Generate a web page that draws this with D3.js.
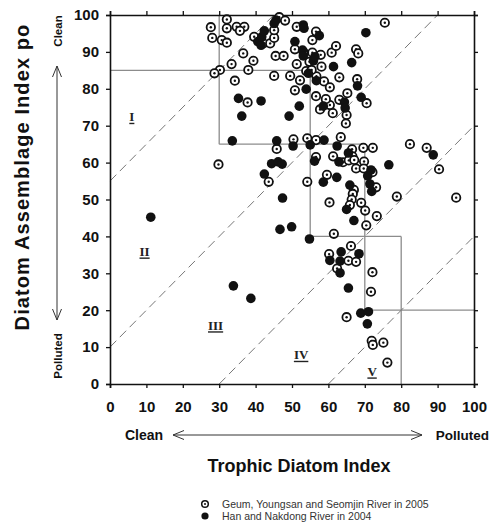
<!DOCTYPE html>
<html>
<head>
<meta charset="utf-8">
<script src="https://cdn.jsdelivr.net/npm/d3@7"></script>
<style>
	body { margin: 0; background: #fff; }
	text { font-family: "Liberation Sans", Arial, sans-serif; }
</style>
</head>
<body>
<div id="chart"></div>
<script>

	// Geum, Youngsan and Seomjin River in 2005 (TDI, DAIpo)
	let geum2005 = [
		[27.7, 96.7], [32.1, 98.8], [32.1, 96.4], [28.1, 93.8], [30.7, 93.2], [32.1, 92.5], [34.8, 96.8], [36.9, 96.8],
		[35.7, 95.7], [33.4, 86.7], [30.2, 85.1], [28.7, 84.2], [34.3, 82.2], [36.6, 89.6], [38.0, 85.1], [39.4, 87.6],
		[39.6, 94.1], [42.1, 92.3], [44.0, 92.3], [45.1, 93.8], [45.1, 95.9], [46.5, 99.4], [48.1, 98.5], [45.5, 88.9],
		[47.7, 88.9], [45.1, 83.5], [49.5, 83.5], [52.2, 82.3], [50.8, 79.6], [51.3, 86.7], [50.8, 90.7], [51.3, 96.8],
		[37.8, 76.3], [45.8, 63.7], [29.8, 59.5], [43.6, 54.8], [56.6, 95.5], [55.6, 93.2], [53.2, 89.9], [55.6, 89.8],
		[57.9, 89.2], [60.9, 89.8], [62.1, 91.6], [67.6, 90.7], [68.2, 89.6], [75.5, 97.9], [63.0, 83.1], [67.9, 82.6],
		[65.2, 78.8], [70.5, 76.1], [63.0, 77.0], [65.0, 72.9], [64.8, 70.6], [61.2, 73.4], [60.4, 75.6], [57.7, 74.4],
		[59.3, 77.2], [56.6, 78.0], [58.8, 82.0], [60.4, 80.4], [56.7, 83.4], [53.9, 84.8], [58.1, 86.0], [54.8, 87.3],
		[55.4, 85.1], [50.4, 66.3], [54.2, 66.6], [56.6, 66.1], [63.4, 66.9], [82.4, 65.0], [87.0, 64.0], [90.4, 58.2],
		[66.5, 63.6], [69.6, 64.0], [72.2, 64.0], [66.6, 61.7], [61.3, 61.7], [64.0, 60.1], [65.6, 60.6], [67.1, 60.7],
		[56.6, 61.5], [59.6, 56.7], [54.2, 54.8], [67.6, 58.4], [69.8, 60.3], [69.7, 58.4], [72.1, 57.4], [73.1, 53.3],
		[78.8, 50.8], [95.1, 50.5], [67.0, 52.6], [60.3, 49.2], [66.7, 51.5], [66.4, 50.0], [69.0, 49.1], [65.9, 48.5],
		[70.1, 47.0], [73.3, 45.5], [70.4, 43.0], [61.5, 40.7], [66.2, 37.4], [60.2, 35.2], [65.5, 33.4], [67.6, 33.1],
		[62.4, 31.3], [72.1, 30.3], [71.7, 25.0], [65.0, 18.1], [71.9, 11.7], [75.1, 11.2], [72.2, 10.6], [76.2, 5.8]
	];

	// Han and Nakdong River in 2004
	let han2004 = [
		[40.6, 92.8], [41.5, 91.8], [41.7, 94.1], [42.4, 95.7], [45.1, 97.7], [45.6, 98.6], [50.8, 92.8], [35.3, 77.4],
		[41.5, 76.7], [36.2, 72.6], [49.2, 72.6], [33.6, 65.9], [45.8, 65.9], [50.3, 64.5], [44.4, 59.7], [46.2, 60.2],
		[47.3, 59.6], [42.4, 56.9], [47.4, 50.4], [11.2, 45.2], [46.7, 41.9], [49.9, 42.6], [33.9, 26.6], [38.7, 23.2],
		[53.1, 97.3], [53.3, 96.4], [57.5, 94.4], [52.9, 90.5], [53.1, 88.9], [70.3, 95.2], [66.4, 87.1], [61.4, 86.0],
		[68.0, 80.8], [69.0, 77.7], [64.4, 76.4], [64.6, 74.8], [58.6, 75.3], [52.0, 75.3], [53.9, 79.9], [56.7, 82.2],
		[55.9, 87.6], [56.3, 88.7], [54.5, 84.2], [58.8, 66.1], [62.4, 64.5], [55.0, 64.8], [88.8, 62.1], [65.5, 62.6],
		[62.9, 60.2], [56.2, 60.4], [62.3, 56.0], [58.6, 54.7], [70.8, 56.4], [71.4, 54.2], [76.6, 59.4], [65.9, 53.9],
		[71.9, 52.2], [71.7, 58.0], [65.0, 47.3], [67.0, 44.3], [54.8, 39.3], [63.5, 35.8], [68.4, 35.3], [60.4, 33.5],
		[63.2, 33.3], [63.2, 30.1], [65.5, 26.0], [68.9, 19.2], [71.0, 19.6], [70.7, 16.3]
	];

	let xTicks = [0, 10, 20, 30, 40, 50, 60, 70, 80, 90, 100];
	let yTicks = [0, 10, 20, 30, 40, 50, 60, 70, 80, 90, 100];

	// class boundaries (x1, y1, x2, y2)
	let classBounds = [
		[0, 85, 55, 85], [30, 100, 30, 65], [30, 65, 70, 65], [55, 85, 55, 40],
		[55, 40, 80, 40], [70, 65, 70, 20], [70, 20, 100, 20], [80, 40, 80, 0]
	];

	// dashed diagonals y = x + b
	let diagonals = [55, 10, -30, -60];

	let zoneNames = ['I', 'II', 'III', 'IV', 'V'];
	let zoneSpots = [[6, 72.5], [9.5, 36], [29, 16], [52.5, 8], [72, 3.5]];

	let legendNames = ['Geum, Youngsan and Seomjin River in 2005', 'Han and Nakdong River in 2004'];

	let width = 495;
	let height = 522;

	let svg = d3.select('#chart')
		.append('svg')
		.attr('width', width)
		.attr('height', height);

	let x = d3.scaleLinear().domain([0, 100]).range([110, 474]);
	let y = d3.scaleLinear().domain([0, 100]).range([384, 15]);

	// arrow head
	svg.append('defs').append('marker')
		.attr('id', 'head')
		.attr('viewBox', '0 0 12 10')
		.attr('refX', 11).attr('refY', 5)
		.attr('markerWidth', 12).attr('markerHeight', 10)
		.attr('markerUnits', 'userSpaceOnUse')
		.attr('orient', 'auto-start-reverse')
		.append('path')
		.attr('d', 'M0,0.5 L11,5 L0,9.5')
		.attr('fill', 'none')
		.attr('stroke', '#333')
		.attr('stroke-width', 1);

	// boundaries
	svg.append('g')
		.selectAll('line')
		.data(classBounds)
		.enter()
		.append('line')
		.attr('x1', d => x(d[0]))
		.attr('y1', d => y(d[1]))
		.attr('x2', d => x(d[2]))
		.attr('y2', d => y(d[3]))
		.attr('stroke', '#8c8c8c')
		.attr('stroke-width', 1.3);

	// diagonals
	svg.append('g')
		.selectAll('line')
		.data(diagonals)
		.enter()
		.append('line')
		.attr('x1', b => x(Math.max(0, -b)))
		.attr('y1', b => y(Math.max(0, -b) + b))
		.attr('x2', b => x(Math.min(100, 100 - b)))
		.attr('y2', b => y(Math.min(100, 100 - b) + b))
		.attr('stroke', '#777')
		.attr('stroke-width', 1)
		.attr('stroke-dasharray', '9,5');

	// zone labels
	let zones = svg.append('g')
		.selectAll('g')
		.data(zoneNames)
		.enter()
		.append('g')
		.attr('transform', (d, i) => `translate(${x(zoneSpots[i][0])}, ${y(zoneSpots[i][1])})`);

	zones.append('text')
		.text(d => d)
		.attr('text-anchor', 'middle')
		.attr('dy', '0.35em')
		.style('font-family', '"Liberation Serif", "Times New Roman", serif')
		.style('font-weight', 'bold')
		.style('font-size', '13px')
		.style('fill', '#222');

	zones.append('line')
		.attr('x1', function (d) { return -this.parentNode.querySelector('text').getComputedTextLength() / 2; })
		.attr('x2', function (d) { return this.parentNode.querySelector('text').getComputedTextLength() / 2; })
		.attr('y1', 7).attr('y2', 7)
		.attr('stroke', '#222')
		.attr('stroke-width', 1.4);

	// axes
	function styleAxis(g) {
		g.select('.domain').attr('stroke', '#111').attr('stroke-width', 1.6);
		g.selectAll('.tick line').attr('stroke', '#111').attr('stroke-width', 1.3);
		g.selectAll('text')
			.style('font-size', '15px')
			.style('font-weight', 'bold')
			.style('fill', '#111');
	}

	svg.append('g')
		.attr('transform', 'translate(0, 384)')
		.call(d3.axisBottom(x).tickValues(xTicks).tickSize(4).tickPadding(13))
		.call(styleAxis);

	svg.append('g')
		.attr('transform', 'translate(110, 0)')
		.call(d3.axisLeft(y).tickValues(yTicks).tickSize(4).tickPadding(7))
		.call(styleAxis);

	svg.append('g')
		.attr('transform', 'translate(0, 15)')
		.call(d3.axisTop(x).tickValues(xTicks).tickSize(4).tickFormat(''))
		.call(styleAxis);

	svg.append('g')
		.attr('transform', 'translate(474, 0)')
		.call(d3.axisRight(y).tickValues(yTicks).tickSize(4).tickFormat(''))
		.call(styleAxis);

	// rings: 2005
	let rings = svg.append('g')
		.selectAll('g')
		.data(geum2005)
		.enter()
		.append('g')
		.attr('transform', d => `translate(${x(d[0])}, ${y(d[1])})`);

	rings.append('circle')
		.attr('r', 4.2)
		.attr('fill', 'white')
		.attr('stroke', '#111')
		.attr('stroke-width', 1.8);

	rings.append('circle')
		.attr('r', 1.2)
		.attr('fill', '#111');

	// filled: 2004
	svg.append('g')
		.selectAll('circle')
		.data(han2004)
		.enter()
		.append('circle')
		.attr('cx', d => x(d[0]))
		.attr('cy', d => y(d[1]))
		.attr('r', 4.8)
		.attr('fill', '#111');

	// titles
	svg.append('text')
		.text('Trophic Diatom Index')
		.attr('x', 299).attr('y', 472)
		.attr('text-anchor', 'middle')
		.style('font-size', '18px')
		.style('font-weight', 'bold')
		.style('fill', '#111');

	svg.append('text')
		.text('Diatom Assemblage Index po')
		.attr('transform', 'translate(29, 177) rotate(-90)')
		.attr('text-anchor', 'middle')
		.style('font-size', '20px')
		.style('font-weight', 'bold')
		.style('letter-spacing', '1.1px')
		.style('fill', '#111');

	// clean / polluted
	svg.append('text').text('Clean')
		.attr('x', 125).attr('y', 440)
		.style('font-size', '14px').style('font-weight', 'bold').style('fill', '#111');

	svg.append('text').text('Polluted')
		.attr('x', 489).attr('y', 440)
		.attr('text-anchor', 'end')
		.style('font-size', '13.5px').style('font-weight', 'bold').style('fill', '#111');

	svg.append('line')
		.attr('x1', 173).attr('y1', 435).attr('x2', 422).attr('y2', 435)
		.attr('stroke', '#333').attr('stroke-width', 1)
		.attr('marker-start', 'url(#head)')
		.attr('marker-end', 'url(#head)');

	svg.append('text').text('Clean')
		.attr('transform', 'translate(62, 31) rotate(-90)')
		.attr('text-anchor', 'middle')
		.style('font-size', '11.5px').style('font-weight', 'bold').style('fill', '#111');

	svg.append('text').text('Polluted')
		.attr('transform', 'translate(62, 356) rotate(-90)')
		.attr('text-anchor', 'middle')
		.style('font-size', '11.5px').style('font-weight', 'bold').style('fill', '#111');

	svg.append('line')
		.attr('x1', 57).attr('y1', 66).attr('x2', 57).attr('y2', 320)
		.attr('stroke', '#333').attr('stroke-width', 1)
		.attr('marker-start', 'url(#head)')
		.attr('marker-end', 'url(#head)');

	// legend
	let legend = svg.append('g')
		.selectAll('g')
		.data(legendNames)
		.enter()
		.append('g')
		.attr('transform', (d, i) => `translate(205, ${504 + i * 12})`);

	legend.filter((d, i) => i === 0).append('circle')
		.attr('r', 3.3).attr('fill', 'white').attr('stroke', '#111').attr('stroke-width', 1.5);
	legend.filter((d, i) => i === 0).append('circle')
		.attr('r', 1).attr('fill', '#111');
	legend.filter((d, i) => i === 1).append('circle')
		.attr('r', 3.6).attr('fill', '#111');

	legend.append('text')
		.text(d => d)
		.attr('x', 17)
		.attr('dy', '0.35em')
		.style('font-size', '10.5px')
		.style('fill', '#333');

</script>
</body>
</html>
